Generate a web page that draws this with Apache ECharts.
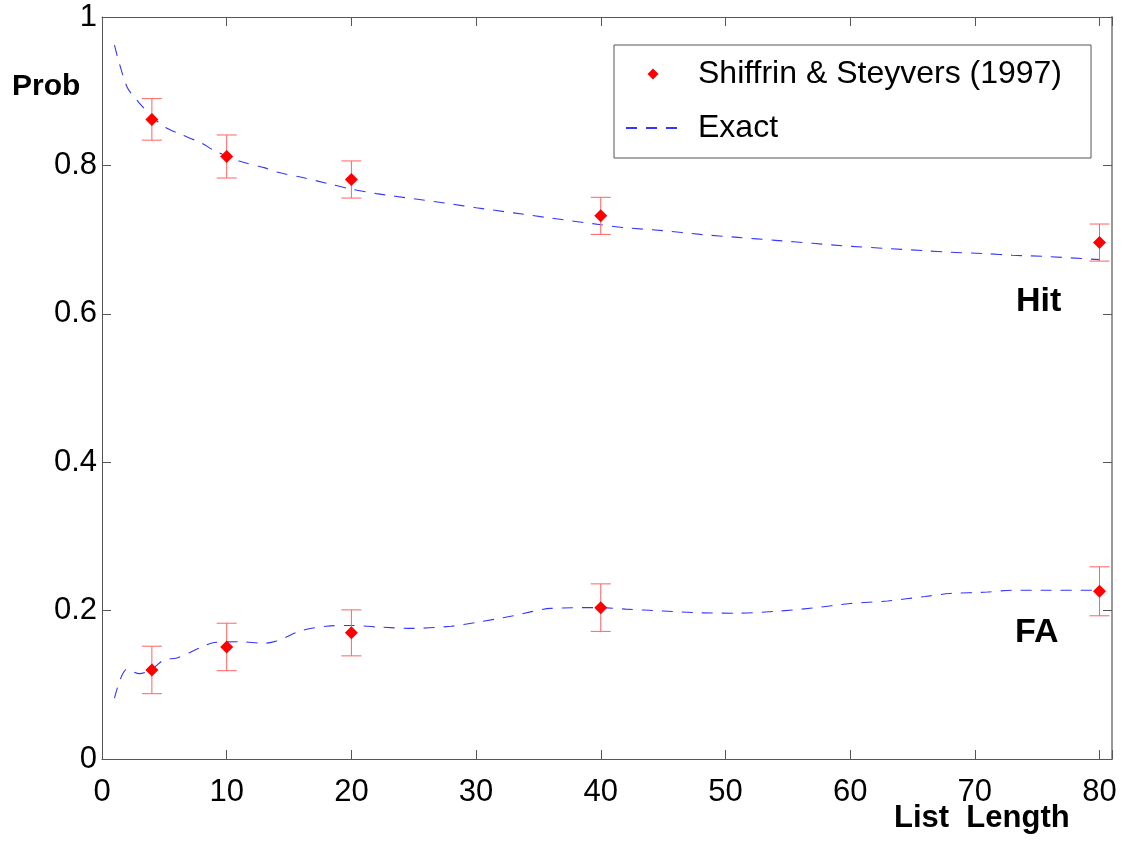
<!DOCTYPE html>
<html>
<head>
<meta charset="utf-8">
<script src="https://cdn.jsdelivr.net/npm/echarts@6/dist/echarts.min.js"></script>
<style>
    html, body { margin: 0; padding: 0; background: #fff; }
    #chart { width: 1124px; height: 841px; }
</style>
</head>
<body>
<div id="chart"></div>
<script>
    // measured points (Shiffrin & Steyvers 1997)
    var listLengths = [4, 10, 20, 40, 80];
    var hitMean = [0.862, 0.812, 0.781, 0.732, 0.696];
    var hitErr = [0.028, 0.029, 0.025, 0.025, 0.025];
    var faMean = [0.120, 0.151, 0.170, 0.204, 0.226];
    var faErr = [0.032, 0.032, 0.031, 0.032, 0.033];

    // exact model curves
    var exactX = [1, 2, 3, 4, 5, 6, 8, 9, 11, 13, 14, 16, 18, 20, 22, 25, 28, 30, 33, 36,
        40, 42, 45, 48, 51, 54, 57, 60, 63, 66, 68, 71, 73, 76, 80];
    var exactHit = [0.962, 0.906, 0.884, 0.866, 0.852, 0.844, 0.830, 0.820, 0.806, 0.797,
        0.791, 0.784, 0.776, 0.768, 0.762, 0.755, 0.748, 0.743, 0.736, 0.729,
        0.720, 0.716, 0.712, 0.707, 0.703, 0.699, 0.695, 0.691, 0.688, 0.685,
        0.683, 0.681, 0.679, 0.677, 0.673];
    var exactFA = [0.082, 0.121, 0.115, 0.121, 0.134, 0.136, 0.151, 0.157, 0.158, 0.156,
        0.159, 0.173, 0.179, 0.180, 0.178, 0.176, 0.179, 0.184, 0.193, 0.203,
        0.204, 0.202, 0.1995, 0.197, 0.1965, 0.199, 0.2035, 0.2095, 0.213, 0.219,
        0.223, 0.225, 0.2275, 0.2275, 0.2275];

    var font = '"Liberation Sans", Arial, sans-serif';

    var zip = function (xs, ys) {
        return xs.map(function (x, i) { return [x, ys[i]]; });
    };
    var points = zip(listLengths, hitMean).concat(zip(listLengths, faMean));
    var bars = listLengths.map(function (x, i) {
        return [x, hitMean[i] - hitErr[i], hitMean[i] + hitErr[i]];
    }).concat(listLengths.map(function (x, i) {
        return [x, faMean[i] - faErr[i], faMean[i] + faErr[i]];
    }));

    var exactStyle = { color: '#3535ff', width: 1.1, type: [11, 9] };
    var axisColor = '#555';
    var tick = { inside: true, length: 9, lineStyle: { color: axisColor } };

    var option = {
        animation: false,
        backgroundColor: '#fff',
        grid: { left: 102, top: 17, right: 12, bottom: 82 },
        legend: {
            data: [{
                name: 'Shiffrin & Steyvers (1997)',
                icon: 'path://M0,-1L1,0L0,1L-1,0Z',
                symbolKeepAspect: true
            }, {
                name: 'Exact',
                itemStyle: { color: 'rgba(0,0,0,0)', borderWidth: 0 }
            }],
            orient: 'vertical',
            left: 614,
            top: 45,
            padding: [13, 29, 14, 11],
            itemWidth: 54,
            itemHeight: 11,
            itemGap: 22,
            symbolKeepAspect: true,
            borderColor: '#555',
            borderWidth: 1,
            backgroundColor: '#fff',
            textStyle: {
                fontFamily: font,
                fontSize: 32,
                lineHeight: 32,
                color: '#000',
                padding: [0, 0, 0, 13]
            }
        },
        xAxis: [{
            type: 'value',
            min: 0,
            max: 81,
            interval: 10,
            splitLine: { show: false },
            axisLine: { onZero: false, lineStyle: { color: axisColor } },
            axisTick: tick,
            axisLabel: {
                margin: 18,
                fontFamily: font,
                fontSize: 31,
                color: '#000',
                formatter: function (v) { return v % 10 === 0 ? v : ''; }
            }
        }, {
            type: 'value',
            position: 'top',
            min: 0,
            max: 81,
            interval: 10,
            splitLine: { show: false },
            axisLine: { onZero: false, lineStyle: { color: axisColor } },
            axisTick: tick,
            axisLabel: { show: false }
        }],
        yAxis: [{
            type: 'value',
            min: 0,
            max: 1,
            interval: 0.2,
            splitLine: { show: false },
            axisLine: { show: true, onZero: false, lineStyle: { color: axisColor } },
            axisTick: { show: true, inside: true, length: 9, lineStyle: { color: axisColor } },
            axisLabel: {
                margin: 5,
                fontFamily: font,
                fontSize: 31,
                color: '#000'
            }
        }, {
            type: 'value',
            position: 'right',
            min: 0,
            max: 1,
            interval: 0.2,
            splitLine: { show: false },
            axisLine: { show: true, onZero: false, lineStyle: { color: '#999', width: 2 } },
            axisTick: { show: true, inside: true, length: 9, lineStyle: { color: axisColor } },
            axisLabel: { show: false }
        }],
        series: [{
            name: 'Exact',
            type: 'line',
            data: zip(exactX, exactHit),
            smooth: 0.3,
            symbol: 'none',
            lineStyle: exactStyle,
            itemStyle: { color: '#3535ff' },
            z: 2
        }, {
            name: 'Exact',
            type: 'line',
            data: zip(exactX, exactFA),
            smooth: 0.3,
            symbol: 'none',
            lineStyle: exactStyle,
            itemStyle: { color: '#3535ff' },
            z: 2
        }, {
            name: 'errors',
            type: 'custom',
            data: bars,
            encode: { x: 0, y: [1, 2] },
            silent: true,
            z: 3,
            renderItem: function (params, api) {
                var x = api.value(0);
                var lo = api.coord([x, api.value(1)]);
                var hi = api.coord([x, api.value(2)]);
                var w = 10;
                var st = { stroke: '#ff6262', lineWidth: 1, fill: null };
                return {
                    type: 'group',
                    children: [
                        { type: 'line', shape: { x1: hi[0], y1: hi[1], x2: lo[0], y2: lo[1] }, style: st },
                        { type: 'line', shape: { x1: hi[0] - w, y1: hi[1], x2: hi[0] + w, y2: hi[1] }, style: st },
                        { type: 'line', shape: { x1: lo[0] - w, y1: lo[1], x2: lo[0] + w, y2: lo[1] }, style: st }
                    ]
                };
            }
        }, {
            name: 'Shiffrin & Steyvers (1997)',
            type: 'scatter',
            data: points,
            symbol: 'diamond',
            symbolSize: 13,
            itemStyle: { color: '#ff0000', opacity: 1 },
            z: 4
        }],
        graphic: [{
            type: 'text',
            left: 12,
            top: 72,
            style: { text: 'Prob', font: 'bold 30px ' + font, fill: '#000' }
        }, {
            type: 'text',
            left: 1016,
            top: 285,
            style: { text: 'Hit', font: 'bold 34px ' + font, fill: '#000' }
        }, {
            type: 'text',
            left: 1015,
            top: 616,
            style: { text: 'FA', font: 'bold 34px ' + font, fill: '#000' }
        }, {
            type: 'text',
            left: 894,
            top: 803,
            style: { text: 'List  Length', font: 'bold 31px ' + font, fill: '#000' }
        }]
    };

    echarts.init(document.getElementById('chart')).setOption(option);
</script>
</body>
</html>
